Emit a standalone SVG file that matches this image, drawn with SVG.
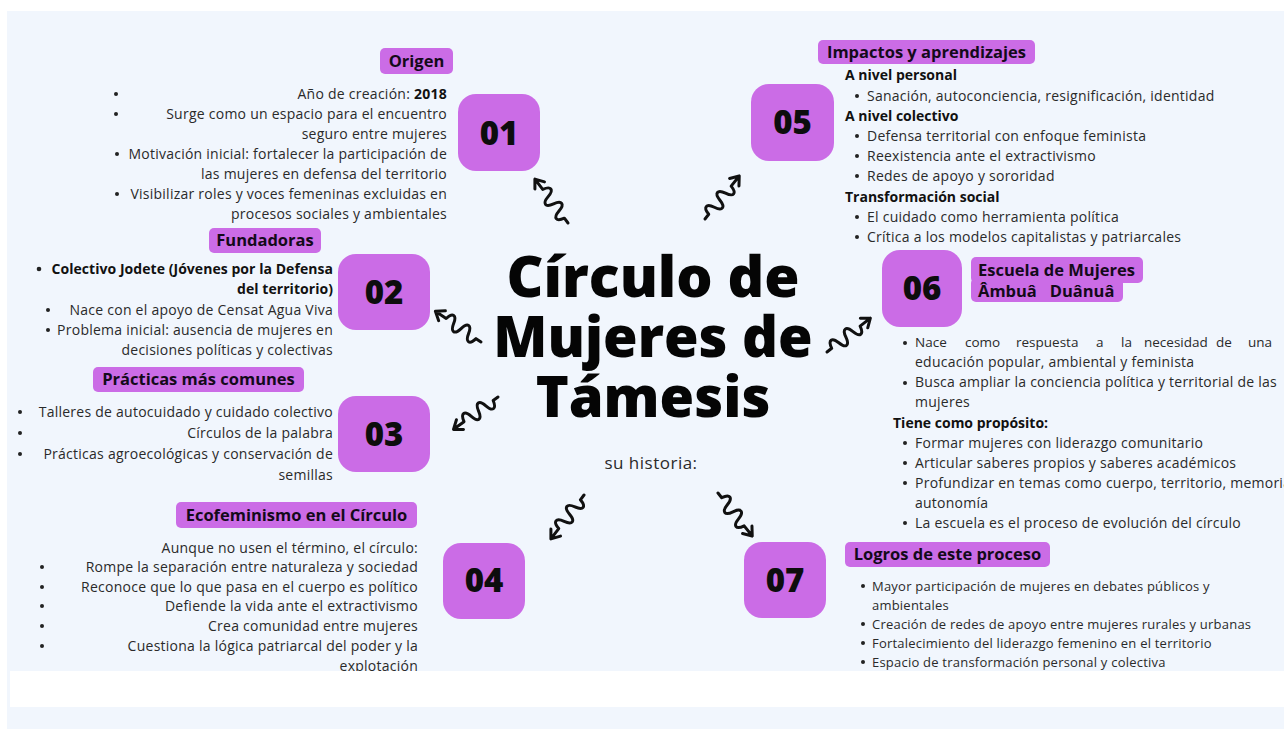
<svg xmlns="http://www.w3.org/2000/svg" width="1284" height="729" viewBox="0 0 1284 729">
<defs>
<style>
.bg{fill:#f1f6fd}
.box{fill:#cb6ce6}
.pill{fill:#cb6ce6}
text{font-family:"Open Sans","Liberation Sans",sans-serif;fill:#2a2a2a}
.num{font-size:33px;font-weight:800;fill:#0d0d0d;text-anchor:middle}
.lbl{font-size:16.5px;font-weight:700;fill:#140a1a}
.c{text-anchor:middle}
.t{font-size:14px;letter-spacing:0.25px}
.s{font-size:13px;letter-spacing:0.22px}
.r{text-anchor:end}
.b{font-weight:700;fill:#111}
.title{font-size:56px;font-weight:800;fill:#050505;text-anchor:middle}
.dot{fill:#222}
.sq{fill:none;stroke:#111;stroke-width:3;stroke-linecap:round;stroke-linejoin:round}
</style>
<g id="squiggle">
<path d="M0,0 L6,0 C8,-9 13,-9 15,0 S22,9 24,0 S31,-9 33,0 S40,9 42,0 L55,0 M47,-6 L55,0 L47,6"/>
</g>
</defs>
<rect x="0" y="0" width="1284" height="729" fill="#ffffff"/>
<rect class="bg" x="7" y="11" width="1277" height="718"/>

<g id="title">
<text class="title" x="653" y="297" textLength="293" lengthAdjust="spacingAndGlyphs">Círculo de</text>
<text class="title" x="653" y="357">Mujeres de</text>
<text class="title" x="653" y="417">Támesis</text>
<text class="t c" x="651" y="469" style="font-size:17px;letter-spacing:0.5px">su historia:</text>
</g>

<g id="connectors" class="sq">
<use href="#squiggle" transform="translate(568,223) rotate(-127)"/>
<use href="#squiggle" transform="translate(705,219) rotate(-51.5)"/>
<use href="#squiggle" transform="translate(481,342) rotate(-146)"/>
<use href="#squiggle" transform="translate(498,397) rotate(144)"/>
<use href="#squiggle" transform="translate(584,495) rotate(127)"/>
<use href="#squiggle" transform="translate(718,493) rotate(51.5)"/>
<use href="#squiggle" transform="translate(827,352) rotate(-38)"/>
</g>

<g id="n01">
<rect class="box" x="458" y="94" width="82" height="77" rx="18"/>
<text class="num" x="499" y="145">01</text>
<rect class="pill" x="380" y="48" width="73" height="26" rx="5"/>
<text class="lbl c" x="416.5" y="67">Origen</text>
<circle class="dot" cx="116" cy="94" r="2"/>
<circle class="dot" cx="116" cy="114" r="2"/>
<circle class="dot" cx="117" cy="154" r="2"/>
<circle class="dot" cx="117" cy="194" r="2"/>
<text class="t r" x="447" y="99">Año de creación: <tspan class="b">2018</tspan></text>
<text class="t r" x="447" y="119">Surge como un espacio para el encuentro</text>
<text class="t r" x="447" y="139">seguro entre mujeres</text>
<text class="t r" x="447" y="159">Motivación inicial: fortalecer la participación de</text>
<text class="t r" x="447" y="179">las mujeres en defensa del territorio</text>
<text class="t r" x="447" y="199">Visibilizar roles y voces femeninas excluidas en</text>
<text class="t r" x="447" y="219">procesos sociales y ambientales</text>
</g>

<g id="n02">
<rect class="box" x="338" y="254" width="92" height="76" rx="18"/>
<text class="num" x="384" y="304">02</text>
<rect class="pill" x="209" y="228" width="112" height="25" rx="5"/>
<text class="lbl c" x="265" y="246">Fundadoras</text>
<circle class="dot" cx="39" cy="269" r="2.3"/>
<circle class="dot" cx="48" cy="310" r="2"/>
<circle class="dot" cx="48" cy="330" r="2"/>
<text class="t r b" x="333" y="274" style="letter-spacing:0.05px">Colectivo Jodete (Jóvenes por la Defensa</text>
<text class="t r b" x="333" y="294" style="letter-spacing:0.05px">del territorio)</text>
<text class="t r" x="333" y="315">Nace con el apoyo de Censat Agua Viva</text>
<text class="t r" x="333" y="335">Problema inicial: ausencia de mujeres en</text>
<text class="t r" x="333" y="355">decisiones políticas y colectivas</text>
</g>

<g id="n03">
<rect class="box" x="338" y="396" width="92" height="76" rx="18"/>
<text class="num" x="384" y="446">03</text>
<rect class="pill" x="93" y="367" width="211" height="25" rx="5"/>
<text class="lbl c" x="198.5" y="385">Prácticas más comunes</text>
<circle class="dot" cx="20" cy="412" r="2"/>
<circle class="dot" cx="20" cy="433" r="2"/>
<circle class="dot" cx="20" cy="454" r="2"/>
<text class="t r" x="333" y="417">Talleres de autocuidado y cuidado colectivo</text>
<text class="t r" x="333" y="438">Círculos de la palabra</text>
<text class="t r" x="333" y="459">Prácticas agroecológicas y conservación de</text>
<text class="t r" x="333" y="480">semillas</text>
</g>

<g id="n04">
<rect class="box" x="443" y="543" width="82" height="76" rx="18"/>
<text class="num" x="484" y="592">04</text>
<rect class="pill" x="176" y="502" width="241" height="26" rx="5"/>
<text class="lbl c" x="296.5" y="521">Ecofeminismo en el Círculo</text>
<circle class="dot" cx="42" cy="567" r="2"/>
<circle class="dot" cx="42" cy="587" r="2"/>
<circle class="dot" cx="42" cy="606" r="2"/>
<circle class="dot" cx="42" cy="626" r="2"/>
<circle class="dot" cx="42" cy="646" r="2"/>
<text class="t r" x="418" y="553">Aunque no usen el término, el círculo:</text>
<text class="t r" x="418" y="572">Rompe la separación entre naturaleza y sociedad</text>
<text class="t r" x="418" y="592">Reconoce que lo que pasa en el cuerpo es político</text>
<text class="t r" x="418" y="611">Defiende la vida ante el extractivismo</text>
<text class="t r" x="418" y="631">Crea comunidad entre mujeres</text>
<text class="t r" x="418" y="651">Cuestiona la lógica patriarcal del poder y la</text>
<text class="t r" x="418" y="671">explotación</text>
</g>

<g id="n05">
<rect class="box" x="751" y="84" width="83" height="77" rx="18"/>
<text class="num" x="792.5" y="134">05</text>
<rect class="pill" x="818" y="40" width="217" height="24" rx="5"/>
<text class="lbl c" x="926.5" y="58">Impactos y aprendizajes</text>
<text class="t b" x="845" y="80" style="letter-spacing:0">A nivel personal</text>
<circle class="dot" cx="857" cy="96" r="2"/>
<text class="t" x="867" y="101">Sanación, autoconciencia, resignificación, identidad</text>
<text class="t b" x="845" y="121" style="letter-spacing:0">A nivel colectivo</text>
<circle class="dot" cx="857" cy="136" r="2"/>
<text class="t" x="867" y="141">Defensa territorial con enfoque feminista</text>
<circle class="dot" cx="857" cy="156" r="2"/>
<text class="t" x="867" y="161">Reexistencia ante el extractivismo</text>
<circle class="dot" cx="857" cy="176" r="2"/>
<text class="t" x="867" y="181">Redes de apoyo y sororidad</text>
<text class="t b" x="845" y="202" style="letter-spacing:0">Transformación social</text>
<circle class="dot" cx="857" cy="217" r="2"/>
<text class="t" x="867" y="222">El cuidado como herramienta política</text>
<circle class="dot" cx="857" cy="237" r="2"/>
<text class="t" x="867" y="242">Crítica a los modelos capitalistas y patriarcales</text>
</g>

<g id="n06">
<rect class="box" x="882" y="250" width="80" height="77" rx="18"/>
<text class="num" x="922" y="300">06</text>
<rect class="pill" x="971" y="257" width="172" height="26" rx="5"/>
<rect class="pill" x="971" y="278" width="152" height="24" rx="5"/>
<text class="lbl" x="978" y="276">Escuela de Mujeres</text>
<text class="lbl" x="978" y="297" xml:space="preserve">Âmbuâ   Duânuâ</text>
<circle class="dot" cx="905" cy="343" r="2"/>
<text class="t" y="347" style="letter-spacing:0;font-size:13.5px"><tspan x="915">Nace</tspan><tspan x="965">como</tspan><tspan x="1016">respuesta</tspan><tspan x="1096">a</tspan><tspan x="1121">la</tspan><tspan x="1144">necesidad</tspan><tspan x="1216">de</tspan><tspan x="1248">una</tspan></text>
<text class="t" x="915" y="367">educación popular, ambiental y feminista</text>
<circle class="dot" cx="905" cy="383" r="2"/>
<text class="t" x="915" y="387">Busca ampliar la conciencia política y territorial de las</text>
<text class="t" x="915" y="407">mujeres</text>
<text class="t b" x="893" y="428" style="letter-spacing:0">Tiene como propósito:</text>
<circle class="dot" cx="905" cy="443" r="2"/>
<text class="t" x="915" y="448">Formar mujeres con liderazgo comunitario</text>
<circle class="dot" cx="905" cy="463" r="2"/>
<text class="t" x="915" y="468">Articular saberes propios y saberes académicos</text>
<circle class="dot" cx="905" cy="483" r="2"/>
<text class="t" x="915" y="488">Profundizar en temas como cuerpo, territorio, memoria</text>
<text class="t" x="915" y="508">autonomía</text>
<circle class="dot" cx="905" cy="523" r="2"/>
<text class="t" x="915" y="528">La escuela es el proceso de evolución del círculo</text>
</g>

<g id="n07">
<rect class="box" x="744" y="542" width="82" height="76" rx="18"/>
<text class="num" x="785" y="592">07</text>
<rect class="pill" x="845" y="542" width="205" height="25" rx="5"/>
<text class="lbl c" x="947.5" y="560">Logros de este proceso</text>
<circle class="dot" cx="863" cy="586" r="2"/>
<text class="s" x="872" y="591">Mayor participación de mujeres en debates públicos y</text>
<text class="s" x="872" y="610">ambientales</text>
<circle class="dot" cx="863" cy="624" r="2"/>
<text class="s" x="872" y="629">Creación de redes de apoyo entre mujeres rurales y urbanas</text>
<circle class="dot" cx="863" cy="643" r="2"/>
<text class="s" x="872" y="648">Fortalecimiento del liderazgo femenino en el territorio</text>
<circle class="dot" cx="863" cy="662" r="2"/>
<text class="s" x="872" y="667">Espacio de transformación personal y colectiva</text>
</g>

<rect x="10" y="671" width="1274" height="36" fill="#ffffff"/>
</svg>
